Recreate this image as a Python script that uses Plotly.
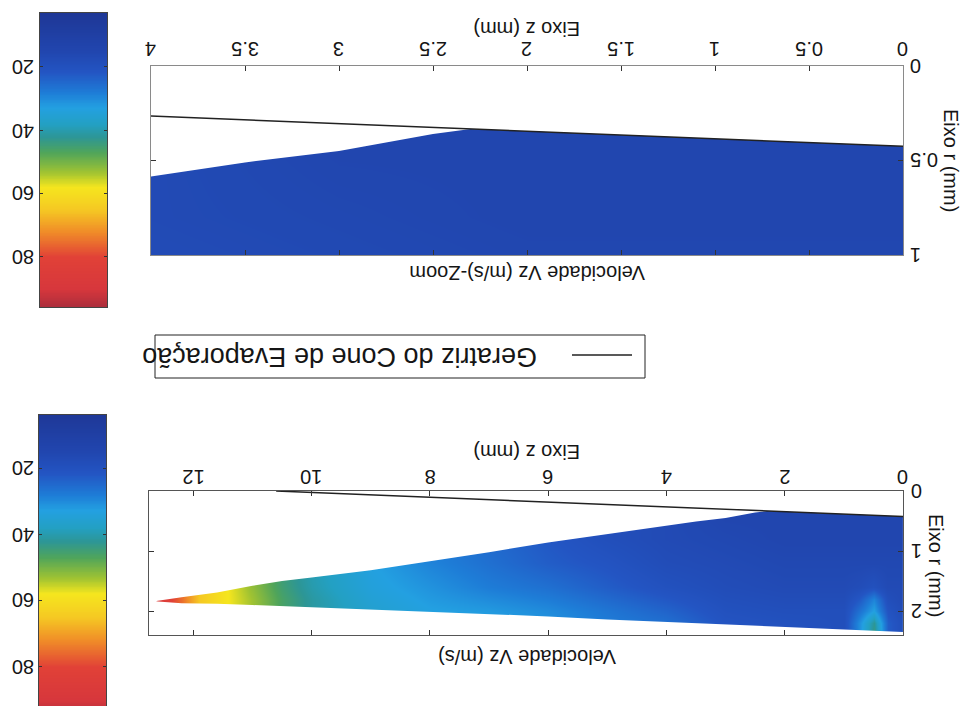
import numpy as np
import plotly.graph_objects as go

W, H = 966, 706

# ---- velocity field Vz (m/s) sampled on a coarse (z, r) grid, mm ----
z_cells = [0, 0.25, 0.5, 0.75, 1.0, 2, 3, 4, 5, 6, 7, 8, 9, 10, 10.5, 11, 11.5, 11.9, 12.2, 12.5]
r_cells = [0, 0.4, 0.8, 1.2, 1.6, 1.8, 2.0, 2.2, 2.4]
# one list per z column, values from r = 0 outward
vz_columns = [
    [15, 15, 15, 16, 17, 17, 18, 19, 19],
    [15, 15, 15, 16, 17, 19, 21, 23, 23],
    [15, 15, 15, 16, 20, 29, 33, 42, 44],
    [15, 15, 15, 16, 18, 22, 26, 30, 30],
    [15, 15, 15, 16, 17, 18, 19, 19, 19],
    [15, 15, 15, 16, 17, 18, 19, 20, 20],
    [15, 15, 16, 17, 18, 19, 20, 21, 21],
    [17, 17, 17, 18, 20, 22, 24, 26, 26],
    [19, 19, 19, 21, 23, 25, 27, 28, 28],
    [22, 22, 22, 23, 26, 28, 30, 31, 31],
    [25, 25, 25, 26, 28, 30, 32, 33, 33],
    [28, 28, 28, 29, 31, 32, 33, 34, 34],
    [33, 33, 33, 33, 34, 35, 36, 36, 36],
    [39, 39, 39, 39, 40, 41, 41, 41, 41],
    [44, 44, 44, 44, 45, 46, 46, 46, 46],
    [52, 52, 52, 52, 52, 53, 53, 53, 53],
    [59, 59, 59, 59, 59, 59, 59, 59, 59],
    [65, 65, 65, 65, 65, 65, 65, 65, 65],
    [75, 75, 75, 75, 75, 75, 75, 75, 75],
    [84, 84, 84, 84, 84, 84, 84, 84, 84],
]

# ---- spray envelope (inner and outer radius along z), mm ----
z_edge = [0, 1, 2, 2.3, 2.5, 3, 3.5, 4, 5, 6, 7, 8, 9, 10, 10.5, 11, 11.6, 12.2, 12.6]
r_inner = [0.425, 0.385, 0.345, 0.333, 0.36, 0.45, 0.51, 0.58, 0.72, 0.86, 1.02, 1.17, 1.32, 1.44, 1.5, 1.58, 1.69, 1.77, 1.83]
r_outer = [2.35, 2.31, 2.27, 2.26, 2.25, 2.22, 2.2, 2.18, 2.14, 2.09, 2.05, 2.01, 1.98, 1.93, 1.92, 1.9, 1.88, 1.87, 1.84]

# ---- generatrix of the evaporation cone ----
z_cone = [0, 10.6]
r_cone = [0.425, 0.0]

# ---- axis ticks ----
z_ticks_zoom = [0, 0.5, 1, 1.5, 2, 2.5, 3, 3.5, 4]
r_ticks_zoom = [0, 0.5, 1]
z_ticks_full = [0, 2, 4, 6, 8, 10, 12]
r_ticks_full = [0, 1, 2]

# ---- colour scale ----
v_min, v_max = 3, 96
cbar_ticks = [20, 40, 60, 80]
jet_like = [
    [0.0, "rgb(30,55,150)"], [0.13, "rgb(33,70,175)"], [0.2, "rgb(35,85,195)"],
    [0.27, "rgb(30,125,215)"], [0.32, "rgb(35,160,225)"], [0.376, "rgb(35,160,195)"],
    [0.42, "rgb(45,150,150)"], [0.473, "rgb(80,165,90)"], [0.54, "rgb(160,195,50)"],
    [0.59, "rgb(245,230,30)"], [0.667, "rgb(245,200,35)"], [0.742, "rgb(240,140,40)"],
    [0.828, "rgb(225,65,55)"], [0.935, "rgb(215,55,60)"], [1.0, "rgb(170,45,60)"],
]

FONT = "Liberation Sans, Arial, sans-serif"
INK = "#151515"


def px(x):
    return x / W


def py(y):
    return 1 - y / H


def fmt(v):
    return f"{v:g}"


field = np.array(vz_columns).T.tolist()   # rows = r, columns = z

fig = go.Figure()


def add_panel(xa, ya):
    fig.add_trace(go.Heatmap(x=z_cells, y=r_cells, z=field, coloraxis="coloraxis",
                             zsmooth="best", hoverinfo="skip", xaxis=xa, yaxis=ya))
    # white outside the spray envelope
    fig.add_trace(go.Scatter(x=z_edge + [13.5, 13.5, -0.5, -0.5],
                             y=r_inner + [2.0, -1, -1, r_inner[0]],
                             fill="toself", fillcolor="white", mode="lines",
                             line=dict(width=0, color="white"), hoverinfo="skip",
                             showlegend=False, xaxis=xa, yaxis=ya))
    fig.add_trace(go.Scatter(x=z_edge + [13.5, 13.5, -0.5, -0.5],
                             y=r_outer + [1.66, 3, 3, r_outer[0]],
                             fill="toself", fillcolor="white", mode="lines",
                             line=dict(width=0, color="white"), hoverinfo="skip",
                             showlegend=False, xaxis=xa, yaxis=ya))
    fig.add_trace(go.Scatter(x=z_cone, y=r_cone, mode="lines",
                             line=dict(color="#222", width=1.5), hoverinfo="skip",
                             name="Geratriz do Cone de Evaporação", showlegend=False,
                             xaxis=xa, yaxis=ya))


add_panel("x", "y")      # zoomed view
add_panel("x2", "y2")    # full view

# colour ramps drawn as narrow heatmaps
ramp = np.arange(v_min, v_max + 0.25, 0.5)
for xa, ya in (("x3", "y3"), ("x4", "y4")):
    fig.add_trace(go.Heatmap(x=[0], y=ramp, z=[[v] for v in ramp], coloraxis="coloraxis",
                             zsmooth="best", hoverinfo="skip", xaxis=xa, yaxis=ya))

axis_common = dict(showgrid=False, zeroline=False, showline=True, linewidth=1,
                   mirror="ticks", ticks="inside", ticklen=5, tickcolor="#333",
                   showticklabels=False, automargin=False)

fig.update_layout(
    width=W, height=H, margin=dict(l=0, r=0, t=0, b=0),
    paper_bgcolor="white", plot_bgcolor="white", showlegend=False,
    coloraxis=dict(colorscale=jet_like, cmin=v_min, cmax=v_max, showscale=False),
    xaxis=dict(axis_common, domain=[px(151), px(903)], anchor="y", side="top",
               range=[4, 0], tickvals=z_ticks_zoom, linecolor="#8a8a8a"),
    yaxis=dict(axis_common, domain=[py(255), py(66)], anchor="x", side="right",
               range=[1, 0], tickvals=r_ticks_zoom, linecolor="#8a8a8a"),
    xaxis2=dict(axis_common, domain=[px(149), px(903)], anchor="y2", side="top",
                range=[12.75, 0], tickvals=z_ticks_full, linecolor="#555"),
    yaxis2=dict(axis_common, domain=[py(635), py(491)], anchor="x2", side="right",
                range=[2.4, 0], tickvals=r_ticks_full, linecolor="#555"),
    xaxis3=dict(domain=[px(40), px(107)], anchor="y3", range=[-0.5, 0.5],
                showticklabels=False, ticks="", showgrid=False, zeroline=False,
                showline=True, linecolor="#444", mirror=True, automargin=False),
    yaxis3=dict(axis_common, domain=[py(307), py(13)], anchor="x3", side="left",
                range=[95.8, 2.95], tickvals=cbar_ticks, ticklen=3, linecolor="#444"),
    xaxis4=dict(domain=[px(39), px(106)], anchor="y4", range=[-0.5, 0.5],
                showticklabels=False, ticks="", showgrid=False, zeroline=False,
                showline=True, linecolor="#444", mirror=True, automargin=False),
    yaxis4=dict(axis_common, domain=[0, py(415)], anchor="x4", side="left",
                range=[91.8, 4.0], tickvals=cbar_ticks, ticklen=3, linecolor="#444"),
)

TICKFONT = dict(family=FONT, size=20, color=INK)


def tick_label(text, x, y, xref, yref, xanchor="center"):
    fig.add_annotation(text=text, x=x, y=y, xref=xref, yref=yref, showarrow=False,
                       textangle=180, xanchor=xanchor, yanchor="middle", font=TICKFONT)


# upside-down tick labels placed on the axis scales
for v in z_ticks_zoom:
    tick_label(fmt(v), v, py(49), "x", "paper")
for v in r_ticks_zoom:
    tick_label(fmt(v), px(908), v, "paper", "y", xanchor="left")
for v in z_ticks_full:
    tick_label(fmt(v), v, py(477), "x2", "paper")
for v in r_ticks_full:
    tick_label(fmt(v), px(909), v, "paper", "y2", xanchor="left")
for v in cbar_ticks:
    tick_label(fmt(v), px(23), v, "paper", "y3")
    tick_label(fmt(v), px(23), v, "paper", "y4")

# axis titles (the whole sheet is turned upside down)
titles = [
    ("Eixo z (mm)", 527, 29, 180, 20),
    ("Velocidade Vz (m/s)-Zoom", 527, 273, 180, 20),
    ("Eixo r (mm)", 951, 160, 90, 20),
    ("Eixo z (mm)", 527, 452, 180, 20),
    ("Velocidade Vz (m/s)", 527, 657, 180, 20),
    ("Eixo r (mm)", 936, 565, 90, 20),
    ("Geratriz do Cone de Evaporação", 340, 357, 180, 27),
]
for text, x, y, ang, size in titles:
    fig.add_annotation(text=text, x=px(x), y=py(y), xref="paper", yref="paper",
                       showarrow=False, textangle=ang, xanchor="center", yanchor="middle",
                       font=dict(family=FONT, size=size, color=INK))

# legend frame and line sample
fig.add_shape(type="rect", xref="paper", yref="paper",
              x0=px(155), x1=px(645), y0=py(378), y1=py(335),
              line=dict(color="#222", width=1), fillcolor="rgba(0,0,0,0)")
fig.add_shape(type="line", xref="paper", yref="paper",
              x0=px(572), x1=px(632), y0=py(355), y1=py(355),
              line=dict(color="#222", width=1.5))

fig.write_html("out.html")
